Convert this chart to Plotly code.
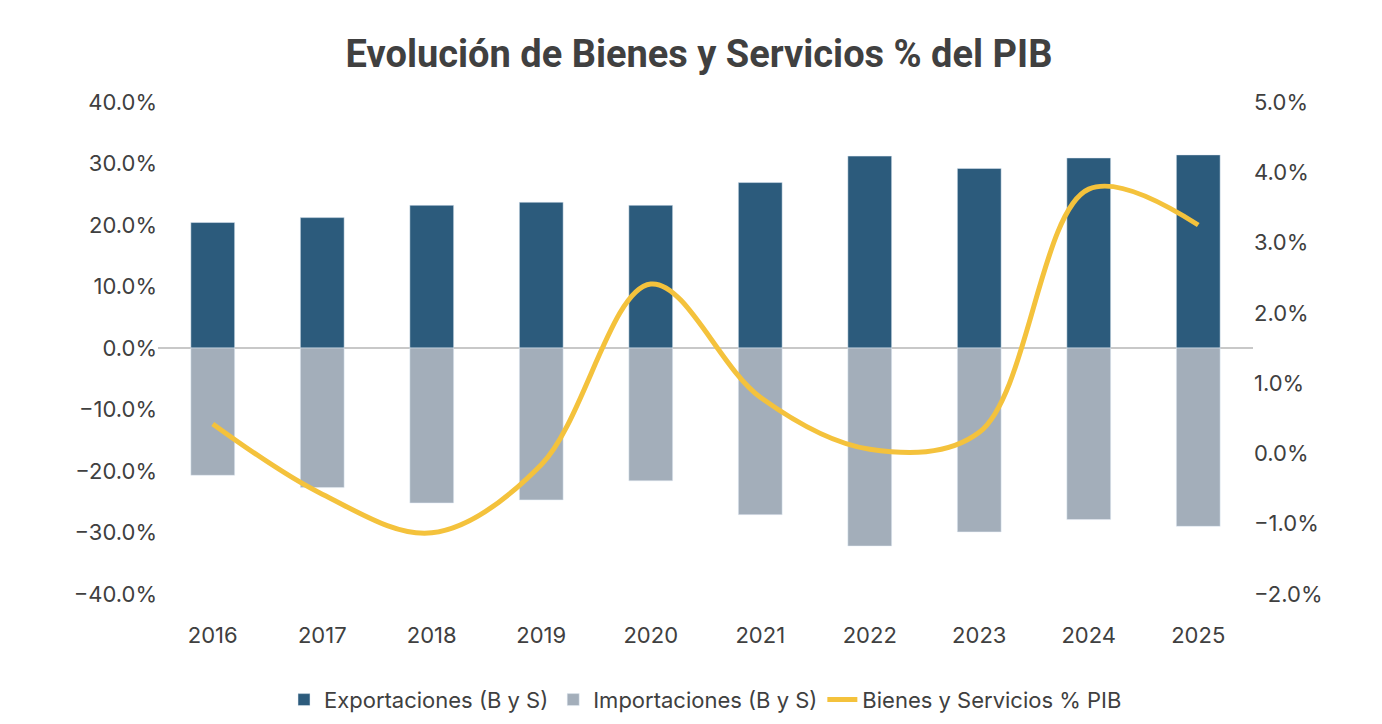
import plotly.graph_objects as go

years = ["2016", "2017", "2018", "2019", "2020", "2021", "2022", "2023", "2024", "2025"]
exportaciones = [20.4, 21.2, 23.2, 23.7, 23.2, 26.9, 31.2, 29.2, 30.9, 31.4]
importaciones = [-20.7, -22.7, -25.2, -24.7, -21.6, -27.1, -32.2, -29.9, -27.9, -29.0]
bys_pib = [0.42, -0.58, -1.13, -0.16, 2.41, 0.8, 0.06, 0.3, 3.76, 3.25]

fig = go.Figure()
fig.add_trace(go.Bar(x=years, y=exportaciones, name="Exportaciones (B y S)",
                     marker_color="#2c5b7c", width=0.4))
fig.add_trace(go.Bar(x=years, y=importaciones, name="Importaciones (B y S)",
                     marker_color="#a3aeba", width=0.4))
fig.add_trace(go.Scatter(x=years, y=bys_pib, name="Bienes y Servicios % PIB", yaxis="y2",
                         mode="lines", line=dict(color="#f4c23c", width=5, shape="spline", smoothing=1.0)))

fig.update_layout(
    width=1382, height=724,
    barmode="relative",
    paper_bgcolor="white", plot_bgcolor="white",
    font=dict(family="Inter, Roboto, sans-serif", size=22, color="#404040"),
    title=dict(text="<b>Evolución de Bienes y Servicios % del PIB</b>", x=0.5, y=0.955,
               font=dict(size=38, color="#404040", family="Roboto, sans-serif")),
    margin=dict(l=150, r=137, t=94, b=137),
    xaxis=dict(showgrid=False, tickfont=dict(size=22), ticks="outside", ticklen=22,
               tickcolor="rgba(0,0,0,0)"),
    yaxis=dict(range=[-40, 40], dtick=10, ticksuffix="%", tickformat=".1f",
               showgrid=False, zeroline=True, zerolinecolor="#c8c8c8", zerolinewidth=2),
    yaxis2=dict(range=[-2, 5], dtick=1, ticksuffix="%", tickformat=".1f", overlaying="y",
                side="right", showgrid=False, zeroline=False),
    legend=dict(orientation="h", x=0.5, xanchor="center", y=-0.17, yanchor="top",
                font=dict(size=22)),
    bargap=0.6,
)
fig.write_html("out.html")
